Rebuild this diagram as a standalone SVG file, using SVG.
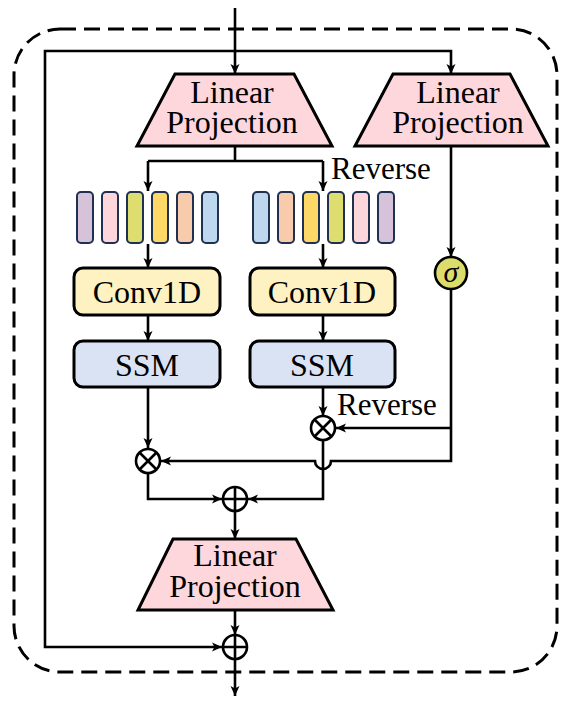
<svg xmlns="http://www.w3.org/2000/svg" width="581" height="702" viewBox="0 0 581 702">
<defs>
<marker id="ah" markerUnits="userSpaceOnUse" markerWidth="12" markerHeight="12" viewBox="0 0 12 12" refX="11" refY="6" orient="auto">
<path d="M1,1.5 L11,6 L1,10.5 L3.5,6 Z" fill="#000"/>
</marker>
<style>
.ln{fill:none;stroke:#000;stroke-width:2.6}
.ar{marker-end:url(#ah)}
.trap{fill:#fdd7dc;stroke:#000;stroke-width:3}
.conv{fill:#fff2c2;stroke:#000;stroke-width:3}
.ssm{fill:#dae3f3;stroke:#000;stroke-width:3}
.bar{stroke:#1f3050;stroke-width:2}
.op{fill:#fff;stroke:#000;stroke-width:2.6}
.t{font-family:"Liberation Serif","Times New Roman",serif;font-size:32px;fill:#000;text-anchor:middle}
.tl{font-family:"Liberation Serif","Times New Roman",serif;font-size:31px;fill:#000}
</style>
</defs>
<rect x="14" y="29" width="543" height="643" rx="46" fill="none" stroke="#000" stroke-width="3" stroke-dasharray="16 8"/>
<g id="connectors">
<path class="ln ar" d="M235,8 V74"/>
<path class="ln ar" d="M235,51 H451 V74"/>
<path class="ln ar" d="M235,51 H45 V647 H222"/>
<path class="ln" d="M235,146 V161 M148,161 H323"/>
<path class="ln ar" d="M148,161 V191"/>
<path class="ln ar" d="M323,161 V191"/>
<path class="ln ar" d="M148,244 V268"/>
<path class="ln ar" d="M323,244 V268"/>
<path class="ln ar" d="M148,315 V341"/>
<path class="ln ar" d="M323,315 V341"/>
<path class="ln ar" d="M451,146 V257"/>
<path class="ln ar" d="M451,289 V461 H331 A8,8 0 0 1 315,461 H161"/>
<path class="ln ar" d="M451,428 H336"/>
<path class="ln ar" d="M148,387 V448"/>
<path class="ln ar" d="M323,387 V416"/>
<path class="ln ar" d="M148,473 V499 H222"/>
<path class="ln ar" d="M323,440 V499 H248"/>
<path class="ln ar" d="M235,511 V539"/>
<path class="ln ar" d="M235,610 V635"/>
<path class="ln ar" d="M235,659 V696"/>
</g>
<g id="linproj-left">
<polygon class="trap" points="175,74 294,74 332,146 137,146"/>
<text class="t"><tspan x="232" y="103">Linear</tspan><tspan x="232" y="133">Projection</tspan></text>
</g>
<g id="linproj-right">
<polygon class="trap" points="393,74 510,74 548,146 355,146"/>
<text class="t"><tspan x="458" y="103">Linear</tspan><tspan x="458" y="133">Projection</tspan></text>
</g>
<g id="tokens-forward">
<rect class="bar" x="77" y="192" width="16" height="51" rx="4" fill="#d6c3d9"/>
<rect class="bar" x="102" y="192" width="16" height="51" rx="4" fill="#fdd6dc"/>
<rect class="bar" x="127" y="192" width="16" height="51" rx="4" fill="#dede70"/>
<rect class="bar" x="152" y="192" width="16" height="51" rx="4" fill="#fed866"/>
<rect class="bar" x="177" y="192" width="16" height="51" rx="4" fill="#f8cbad"/>
<rect class="bar" x="202" y="192" width="16" height="51" rx="4" fill="#bdd7ee"/>
</g>
<g id="tokens-reverse">
<rect class="bar" x="253" y="192" width="16" height="51" rx="4" fill="#bdd7ee"/>
<rect class="bar" x="278" y="192" width="16" height="51" rx="4" fill="#f8cbad"/>
<rect class="bar" x="303" y="192" width="16" height="51" rx="4" fill="#fed866"/>
<rect class="bar" x="328" y="192" width="16" height="51" rx="4" fill="#dede70"/>
<rect class="bar" x="353" y="192" width="16" height="51" rx="4" fill="#fdd6dc"/>
<rect class="bar" x="378" y="192" width="16" height="51" rx="4" fill="#d6c3d9"/>
</g>
<g id="label-reverse-top"><text class="tl" x="331" y="179">Reverse</text></g>
<g id="conv-left">
<rect class="conv" x="74" y="268" width="146" height="47" rx="9"/>
<text class="t" x="147" y="303">Conv1D</text>
</g>
<g id="conv-right">
<rect class="conv" x="250" y="268" width="145" height="47" rx="9"/>
<text class="t" x="322" y="303">Conv1D</text>
</g>
<g id="ssm-left">
<rect class="ssm" x="74" y="341" width="146" height="46" rx="9"/>
<text class="t" x="147" y="376">SSM</text>
</g>
<g id="ssm-right">
<rect class="ssm" x="250" y="341" width="145" height="46" rx="9"/>
<text class="t" x="322" y="376">SSM</text>
</g>
<g id="sigma">
<circle cx="451" cy="273" r="16" fill="#dcdc6c" stroke="#000" stroke-width="2.6"/>
<text x="451" y="282" font-family="'Liberation Serif','Times New Roman',serif" font-style="italic" font-size="30" text-anchor="middle">σ</text>
</g>
<g id="mul-right">
<circle class="op" cx="323" cy="428" r="12"/>
<path class="ln" d="M314.5,419.5 L331.5,436.5 M331.5,419.5 L314.5,436.5"/>
</g>
<g id="label-reverse-bottom"><text class="tl" x="337" y="415">Reverse</text></g>
<g id="mul-left">
<circle class="op" cx="148" cy="461" r="12"/>
<path class="ln" d="M139.5,452.5 L156.5,469.5 M156.5,452.5 L139.5,469.5"/>
</g>
<g id="add-mid">
<circle class="op" cx="235" cy="499" r="12"/>
<path class="ln" d="M223,499 H247 M235,487 V511"/>
</g>
<g id="linproj-bottom">
<polygon class="trap" points="173,539 296,539 333,610 138,610"/>
<text class="t"><tspan x="235" y="566">Linear</tspan><tspan x="235" y="597">Projection</tspan></text>
</g>
<g id="add-final">
<circle class="op" cx="235" cy="647" r="12"/>
<path class="ln" d="M223,647 H247 M235,635 V659"/>
</g>
</svg>
